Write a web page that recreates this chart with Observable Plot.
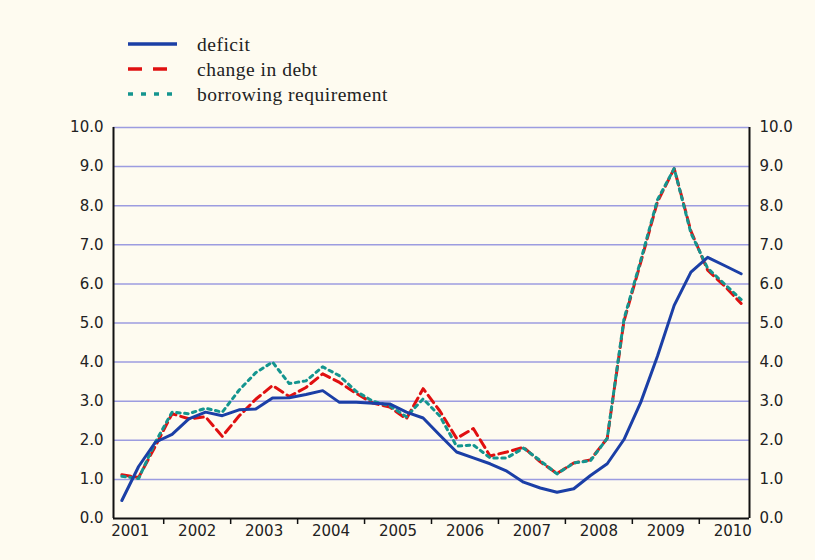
<!DOCTYPE html>
<html><head><meta charset="utf-8">
<script src="https://cdn.jsdelivr.net/npm/d3@7"></script>
<script src="https://cdn.jsdelivr.net/npm/@observablehq/plot@0.6"></script>
<style>
html,body{margin:0;padding:0;background:#fefbf0;}
#legend{position:relative;width:815px;height:110px;}
#chart{width:815px;height:450px;}
</style></head><body>
<div id="legend"></div>
<div id="chart"></div>
<script>
const quarters = ["2001Q2","2001Q3","2001Q4",
  "2002Q1","2002Q2","2002Q3","2002Q4",
  "2003Q1","2003Q2","2003Q3","2003Q4",
  "2004Q1","2004Q2","2004Q3","2004Q4",
  "2005Q1","2005Q2","2005Q3","2005Q4",
  "2006Q1","2006Q2","2006Q3","2006Q4",
  "2007Q1","2007Q2","2007Q3","2007Q4",
  "2008Q1","2008Q2","2008Q3","2008Q4",
  "2009Q1","2009Q2","2009Q3","2009Q4",
  "2010Q1","2010Q2","2010Q3"];
const deficit = [0.46,1.33,1.95,2.15,2.55,2.72,2.63,2.78,2.80,3.08,
  3.09,3.17,3.27,2.97,2.97,2.95,2.93,2.72,2.57,2.13,
  1.70,1.55,1.40,1.21,0.93,0.78,0.67,0.76,1.10,1.40,
  2.02,2.97,4.15,5.45,6.30,6.68,6.47,6.26];
const changeInDebt = [1.12,1.05,1.85,2.68,2.55,2.60,2.10,2.62,3.05,3.40,
  3.12,3.35,3.70,3.48,3.20,2.95,2.85,2.55,3.32,2.75,
  2.05,2.30,1.60,1.70,1.82,1.45,1.15,1.42,1.50,2.05,
  5.05,6.55,8.10,8.95,7.35,6.35,5.95,5.50];
const borrowingRequirement = [1.08,1.02,1.95,2.72,2.68,2.82,2.72,3.28,3.73,4.00,
  3.45,3.52,3.88,3.65,3.25,3.00,2.88,2.60,3.06,2.62,
  1.85,1.88,1.55,1.55,1.80,1.48,1.14,1.42,1.48,2.05,
  5.10,6.60,8.15,8.95,7.30,6.40,6.00,5.60];
const yearLabels = [2001,2002,2003,2004,2005,2006,2007,2008,2009,2010];
const yTicks = [0,1,2,3,4,5,6,7,8,9,10];
const seriesNames = ["deficit","change in debt","borrowing requirement"];

const colors = {deficit:"#1b3fa6", debt:"#e01010", borrow:"#14958f"};

// legend
const lg = d3.select("#legend").append("svg").attr("width",815).attr("height",110);
const legendItems = [
  {name: seriesNames[0], color: colors.deficit, dash: null, y: 44},
  {name: seriesNames[1], color: colors.debt, dash: "14,11", y: 69},
  {name: seriesNames[2], color: colors.borrow, dash: "5,8", y: 94}
];
legendItems.forEach(it => {
  lg.append("line").attr("x1",128).attr("x2",177).attr("y1",it.y).attr("y2",it.y)
    .attr("stroke",it.color).attr("stroke-width",3.5)
    .attr("stroke-dasharray",it.dash);
  lg.append("text").attr("x",197).attr("y",it.y+7)
    .attr("font-family","'Liberation Serif', serif").attr("font-size",19.5)
    .attr("letter-spacing",0.5).attr("fill","#222").text(it.name);
});

const toT = q => +q.slice(0,4) + (+q[5]-1)/4 + 0.125;
const rows = quarters.map((q,i)=>({t: toT(q), deficit: deficit[i], debt: changeInDebt[i], borrow: borrowingRequirement[i]}));
const xDomain = [yearLabels[0] + 0.25, yearLabels[yearLabels.length-1] + 0.75];
const yearBoundaries = yearLabels.slice(1);
const yearCenters = yearLabels.map(y => y + 0.5);

const chart = Plot.plot({
  width: 815, height: 450,
  marginTop: 17, marginBottom: 42, marginLeft: 113, marginRight: 66,
  x: {domain: xDomain},
  y: {domain: [0,10]},
  style: {fontFamily: "'DejaVu Sans', sans-serif", fontSize: "15px", color: "#222", background: "none", overflow: "visible"},
  marks: [
    Plot.gridY(yTicks.filter(d => d > 0), {stroke: "#9c9ce0", strokeOpacity: 1, strokeWidth: 1.5}),
    Plot.lineY(rows, {x: "t", y: "debt", stroke: colors.debt, strokeWidth: 3, strokeDasharray: "9,5"}),
    Plot.lineY(rows, {x: "t", y: "borrow", stroke: colors.borrow, strokeWidth: 3, strokeDasharray: "3.5,4.5"}),
    Plot.lineY(rows, {x: "t", y: "deficit", stroke: colors.deficit, strokeWidth: 3}),
    Plot.ruleY([0], {stroke: "#111", strokeWidth: 2}),
    Plot.ruleX(xDomain, {stroke: "#111", strokeWidth: 2}),
    Plot.axisY(yTicks, {anchor: "left", tickSize: 0, tickPadding: 10, tickFormat: d => d.toFixed(1), label: null, fontSize: 15}),
    Plot.axisY(yTicks, {anchor: "right", tickSize: 0, tickPadding: 10, tickFormat: d => d.toFixed(1), label: null, fontSize: 15}),
    Plot.axisX(yearBoundaries, {tickSize: 6, tickFormat: () => "", strokeWidth: 1.5, stroke: "#111", label: null}),
    Plot.axisX(yearCenters, {tickSize: 0, tickPadding: 7, tickFormat: d => String(Math.floor(d)), label: null, fontSize: 15})
  ]
});
document.getElementById("chart").appendChild(chart);
</script>
</body></html>
